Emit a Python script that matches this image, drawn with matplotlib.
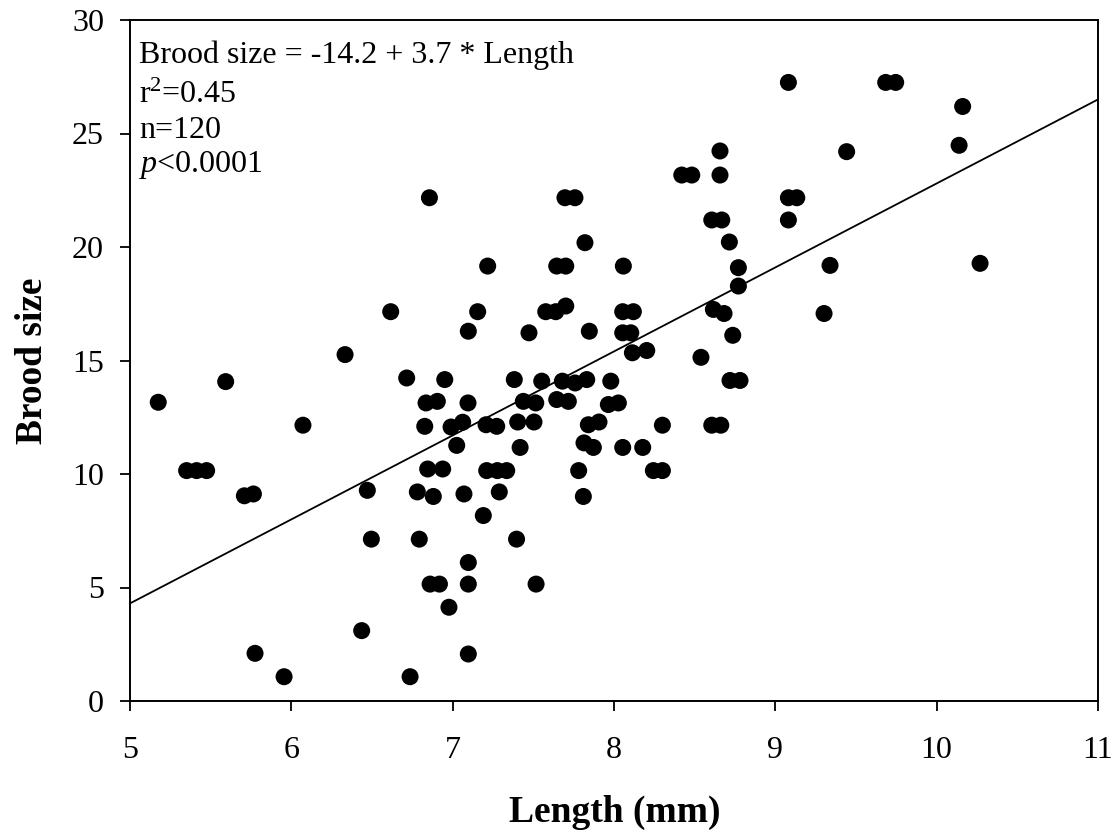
import matplotlib
matplotlib.use("Agg")
import matplotlib.pyplot as plt
import numpy as np

length_mm = [
    5.175, 5.593, 5.351, 5.413, 5.475, 5.709, 5.765, 6.072, 6.333, 6.616,
    5.775, 5.955, 6.471, 6.496, 6.436, 6.736, 6.715, 7.155, 7.097, 6.951,
    6.835, 6.905, 7.095, 6.827, 6.990, 7.062, 7.025, 6.845, 6.938, 6.781,
    6.880, 7.070, 6.793, 7.097, 6.860, 6.918, 7.097, 6.977, 7.097, 6.856,
    9.081, 8.657, 8.420, 8.482, 8.657, 7.696, 7.758, 9.081, 9.133, 9.081,
    8.606, 8.668, 8.715, 7.820, 8.771, 8.771, 7.217, 7.645, 7.701, 8.058,
    7.577, 7.639, 7.701, 8.054, 7.473, 7.847, 8.054, 7.382, 7.552, 7.680,
    7.759, 7.831, 7.980, 7.438, 7.515, 7.645, 7.717, 7.965, 8.027, 7.207,
    7.273, 7.403, 7.504, 7.841, 7.907, 7.418, 7.814, 7.872, 8.054, 7.211,
    7.277, 7.335, 7.781, 7.289, 7.810, 7.190, 7.396, 7.517, 9.339, 8.120,
    8.616, 8.682, 9.302, 8.104, 8.736, 8.114, 8.203, 8.539, 8.719, 8.781,
    8.300, 8.606, 8.662, 8.178, 8.244, 8.300, 9.684, 9.746, 10.161, 9.442,
    10.139, 10.269,
]
brood_size = [
    13.16, 14.07, 10.15, 10.15, 10.15, 9.04, 9.12, 12.15, 15.26, 17.15,
    2.10, 1.07, 9.28, 7.13, 3.10, 1.07, 14.23, 17.15, 16.29, 14.16,
    13.13, 13.20, 13.13, 12.10, 12.07, 12.28, 11.26, 10.22, 10.22, 9.21,
    9.01, 9.12, 7.13, 6.10, 5.15, 5.15, 5.15, 4.13, 2.07, 22.17,
    27.25, 24.23, 23.17, 23.17, 23.17, 22.17, 22.17, 22.17, 22.17, 21.19,
    21.19, 21.19, 20.22, 20.19, 19.09, 18.28, 19.16, 19.16, 19.16, 19.16,
    17.15, 17.15, 17.40, 17.15, 16.22, 16.29, 16.22, 14.16, 14.09, 14.09,
    14.01, 14.16, 14.09, 13.20, 13.13, 13.28, 13.20, 13.06, 13.13, 12.17,
    12.10, 12.29, 12.29, 12.17, 12.29, 11.17, 11.37, 11.17, 11.17, 10.15,
    10.15, 10.15, 10.15, 9.21, 9.01, 8.17, 7.13, 5.15, 19.19, 17.15,
    17.25, 17.07, 17.07, 16.22, 16.11, 15.34, 15.44, 15.14, 14.12, 14.12,
    12.15, 12.15, 12.15, 11.17, 10.15, 10.15, 27.25, 27.25, 26.19, 24.20,
    24.48, 19.28,
]
intercept = -14.2
slope = 3.7
x_ticks = [5, 6, 7, 8, 9, 10, 11]
y_ticks = [0, 5, 10, 15, 20, 25, 30]
annotation_lines = [
    "Brood size = -14.2 + 3.7 * Length",
    r"r$^2$=0.45",
    "n=120",
    r"$\it{p}$<0.0001",
]

plt.rcParams['font.family'] = ['Liberation Serif', 'DejaVu Serif']
plt.rcParams['mathtext.fontset'] = 'custom'
plt.rcParams['mathtext.rm'] = 'Liberation Serif'
plt.rcParams['mathtext.it'] = 'Liberation Serif:italic'
plt.rcParams['mathtext.bf'] = 'Liberation Serif:bold'

W, H = 1120, 833
fig = plt.figure(figsize=(W/100, H/100), dpi=100)
ax = fig.add_axes([130/W, 1-701/H, (1098-130)/W, (701-20)/H])

ax.scatter(length_mm, brood_size, s=150, c='black', edgecolors='none', zorder=3, clip_on=False)
xl = np.array([x_ticks[0], x_ticks[-1]])
ax.plot(xl, intercept + slope*xl, color='black', lw=1.3, zorder=2)

ax.set_xlim(x_ticks[0], x_ticks[-1])
ax.set_ylim(y_ticks[0], y_ticks[-1])
ax.set_xticks(x_ticks)
ax.set_yticks(y_ticks)
ax.tick_params(direction='out', length=7.2, width=1.3, labelsize=23)
ax.tick_params(axis='x', pad=18)
ax.tick_params(axis='y', pad=11.5)
for sp in ax.spines.values():
    sp.set_linewidth(1.4)

ax.set_xlabel("Length (mm)", fontsize=27, fontweight='bold', va='baseline')
ax.xaxis.set_label_coords((615-130)/968, (701-822)/681)
ax.set_ylabel("Brood size", fontsize=27, fontweight='bold', rotation=90,
              va='baseline', ha='center', rotation_mode='anchor')
ax.yaxis.set_label_coords((41.7-130)/968, 0.5)

baselines = [63.3, 103.3, 138.3, 171.7]
for txt, yb in zip(annotation_lines, baselines):
    fig.text(139/W, 1-yb/H, txt, fontsize=23, ha='left', va='baseline')

fig.savefig("out.png", dpi=100)
